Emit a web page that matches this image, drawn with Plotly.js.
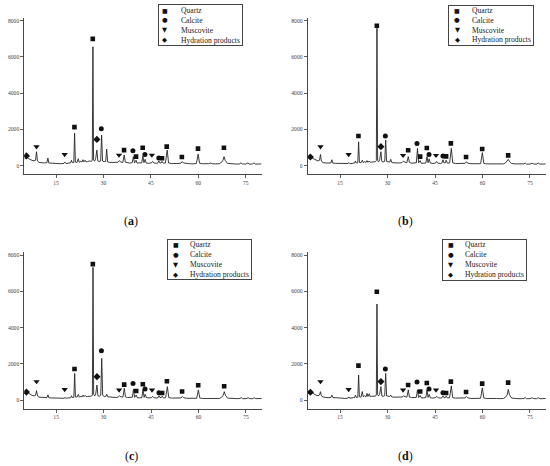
<!DOCTYPE html>
<html><head><meta charset="utf-8">
<script src="https://cdn.plot.ly/plotly-3.0.1.min.js"></script>
<style>html,body{margin:0;padding:0;background:#fff}#wrap{position:relative;width:550px;height:466px}#chart{width:550px;height:466px}
.lgframe{position:absolute;border:1px solid #444;box-sizing:border-box;pointer-events:none;z-index:10}</style>
</head><body><div id="wrap"><div id="chart"></div></div><script>
// ---- data (2θ in degrees, intensity in counts) ----
const twoTheta = [5.0,5.4,5.8,6.2,6.8,7.4,8.0,8.5,8.8,9.1,9.6,10.4,11.2,12.1,12.4,12.7,13.5,14.5,15.5,16.5,
 17.5,17.8,18.1,19.0,19.6,19.85,20.1,20.6,20.85,21.1,21.6,22.0,22.3,22.8,23.2,23.5,23.8,24.2,24.5,25.0,
 25.6,26.2,26.45,26.65,26.85,27.2,27.5,27.9,28.2,28.6,29.1,29.4,29.7,30.2,30.7,31.0,31.3,32.0,33.0,34.0,
 34.6,35.0,35.5,36.1,36.55,36.9,37.6,38.3,39.1,39.45,39.8,40.3,40.6,41.2,42.1,42.45,42.8,43.15,43.5,44.3,
 45.2,45.5,45.9,46.8,47.2,47.5,47.8,48.2,48.5,48.9,49.6,50.15,50.6,51.5,52.5,53.5,54.5,54.9,55.3,56.3,
 57.3,58.3,59.4,59.95,60.4,61.3,62.3,63.2,64.0,64.4,65.5,66.6,67.3,67.8,68.15,68.5,69.2,70.2,71.2,72.2,
 73.1,73.5,73.9,75.0,75.7,76.2,77.1,77.6,78.1,79.0,80.0];
const intensityA = [380,420,470,400,330,290,270,300,770,260,180,160,150,170,420,150,140,110,120,110,
 130,200,120,140,160,300,170,180,1790,200,180,380,190,250,200,330,210,300,210,230,
 260,240,300,6560,320,250,380,860,260,230,260,1690,260,220,240,920,210,180,170,160,
 190,280,200,180,590,200,150,140,170,500,160,300,150,140,160,530,170,350,150,130,
 160,240,150,130,150,260,160,150,240,140,150,860,150,120,110,120,140,230,150,110,
 110,100,120,640,140,110,100,110,150,110,100,110,180,300,500,300,130,100,100,90,
 100,160,100,90,150,90,90,150,90,90,100];
const intensityB = [420,440,450,420,360,320,260,300,620,250,170,150,140,150,330,140,130,120,110,100,
 120,170,110,130,150,260,150,160,1320,180,160,300,180,220,180,280,190,260,190,200,
 230,220,280,7580,300,220,320,770,230,210,240,1420,230,200,200,350,180,160,150,150,
 180,250,190,170,500,180,140,130,160,950,160,280,140,130,150,500,160,380,150,120,
 150,230,140,120,150,330,160,150,300,140,150,960,150,120,110,110,130,220,140,110,
 100,100,110,720,130,100,100,100,140,100,100,100,160,260,350,240,120,100,90,90,
 100,150,90,90,140,90,90,150,90,90,100];
const intensityC = [380,430,470,400,310,270,240,280,530,240,170,160,140,150,300,140,130,120,110,100,
 110,160,110,130,140,250,150,160,1480,190,170,320,180,210,190,290,200,270,200,210,
 220,230,290,7320,320,240,350,840,250,220,280,2310,270,210,210,330,190,170,160,150,
 180,240,190,170,660,190,150,140,170,620,160,290,150,130,150,600,160,330,150,130,
 150,220,140,120,140,250,150,140,230,130,140,750,150,120,110,110,130,210,140,110,
 100,100,110,570,130,100,100,100,140,100,100,100,170,280,475,270,120,100,90,90,
 100,150,90,90,140,90,90,140,90,90,100];
const intensityD = [400,440,460,410,320,280,250,290,475,250,180,150,140,160,280,150,130,110,120,100,
 120,180,110,140,150,280,160,170,1390,190,170,480,200,250,190,380,210,360,200,220,
 240,230,300,5300,310,240,330,750,240,220,250,1480,240,210,210,290,190,170,160,150,
 180,240,190,170,570,180,150,140,160,570,150,270,140,130,150,570,160,320,140,120,
 150,220,140,120,140,240,150,140,230,130,140,790,140,120,110,110,130,210,140,100,
 100,100,110,680,130,100,100,100,140,100,90,100,170,300,600,300,120,90,90,90,
 100,150,90,90,140,90,90,140,90,90,100];

// phase markers: 2θ positions and marker heights per panel
const quartzX = [20.8,26.6,36.5,40.3,42.4,48.5,50.0,54.8,59.9,68.1];
const quartzA = [2130,7000,860,500,990,410,1050,480,940,990];
const quartzB = [1640,7720,850,500,975,515,1230,480,920,570];
const quartzC = [1720,7500,860,510,880,400,1050,480,830,770];
const quartzD = [1910,5980,840,480,950,400,1030,460,920,970];
const calciteX = [29.3,39.3,43.1,47.5];
const calciteA = [2040,830,620,420];
const calciteB = [1640,1230,620,530];
const calciteC = [2730,930,620,420];
const calciteD = [1720,1010,620,420];
const muscoviteX = [8.8,17.7,34.9,45.3];
const muscoviteA = [1050,620,590,590];
const muscoviteB = [1050,620,570,570];
const muscoviteC = [1030,600,570,570];
const muscoviteD = [1030,600,570,570];
const hydrationX = [5.6,27.9];
const hydrationA = [540,1450];
const hydrationB = [480,1050];
const hydrationC = [450,1300];
const hydrationD = [440,1030];

const xTickVals = [15,30,45,60,75];
const yTickVals = [0,2000,4000,6000,8000];
const phaseNames = ['Quartz','Calcite','Muscovite','Hydration products'];
const phaseGlyphs = ['■','●','▼','◆'];
const panelLetters = ['a','b','c','d'];

// ---- layout geometry (pixels) ----
const W = 550, H = 466;
const panels = [
  {xd:[24.2,261.5], yd:[18,174],  xr:[4.9,80], I:intensityA, q:quartzA, c:calciteA, m:muscoviteA, h:hydrationA,
   box:[158,4,243,46], sym:164.5, txt:178.5, row0:10.5, cap:[131,221]},
  {xd:[307.5,545.8], yd:[18,174], xr:[4.7,80], I:intensityB, q:quartzB, c:calciteB, m:muscoviteB, h:hydrationB,
   box:[447.7,5,534,46], sym:457, txt:469.5, row0:10.3, cap:[405,221]},
  {xd:[24.2,261.8], yd:[252.3,408.6], xr:[4.9,80], I:intensityC, q:quartzC, c:calciteC, m:muscoviteC, h:hydrationC,
   box:[166.7,239,251.7,280], sym:175.5, txt:187.5, row0:245, cap:[131,455.6]},
  {xd:[307.5,545.8], yd:[252.3,408.6], xr:[4.7,80], I:intensityD, q:quartzD, c:calciteD, m:muscoviteD, h:hydrationD,
   box:[441.7,239.3,527,281], sym:450.7, txt:463, row0:245, cap:[405,455.6]}
];
const yRange = [-458, 8149];

const traces = [], layout = {
  width: W, height: H, margin:{l:0,r:0,t:0,b:0}, showlegend:false,
  paper_bgcolor:'#fff', plot_bgcolor:'rgba(0,0,0,0)',
  font:{family:'"Liberation Serif", "Times New Roman", serif', color:'#333'},
  annotations:[]
};
const px = v => v / W, py = v => 1 - v / H;
const wrap = document.getElementById('wrap');

panels.forEach((p, i) => {
  const sfx = i === 0 ? '' : String(i + 1);
  const xa = 'x' + sfx, ya = 'y' + sfx;
  traces.push({x: twoTheta, y: p.I, xaxis: xa, yaxis: ya, mode:'lines',
    line:{color:'#262626', width:0.9}, hoverinfo:'skip'});
  const mk = (xs, ys, sym, size) => traces.push({x: xs, y: ys, xaxis: xa, yaxis: ya, mode:'markers',
    marker:{symbol: sym, size: size, color:'#111'}, hoverinfo:'skip'});
  mk(quartzX, p.q, 'square', 4.6);
  mk(calciteX, p.c, 'circle', 5);
  mk(muscoviteX, p.m, 'triangle-down', 5.5);
  mk(hydrationX, p.h, 'diamond', 5.5);

  const axCommon = {showgrid:false, zeroline:false, showline:true, linecolor:'#333', linewidth:0.9,
    ticks:'outside', ticklen:3, tickwidth:0.8, tickcolor:'#333',
    tickfont:{size:5.6, color:'#444', family:'"Liberation Serif", serif'}};
  layout['xaxis' + sfx] = Object.assign({}, axCommon, {
    domain:[px(p.xd[0]), px(p.xd[1])], range:p.xr, anchor: ya,
    tickvals: xTickVals, ticktext: xTickVals.map(String)});
  layout['yaxis' + sfx] = Object.assign({}, axCommon, {
    domain:[py(p.yd[1]), py(p.yd[0])], range:yRange, anchor: xa,
    tickvals: yTickVals, ticktext: yTickVals.map(String)});

  // legend frame (thin bordered box overlaid on the chart)
  const f = document.createElement('div');
  f.className = 'lgframe';
  f.style.left = p.box[0] + 'px'; f.style.top = p.box[1] + 'px';
  f.style.width = (p.box[2] - p.box[0]) + 'px'; f.style.height = (p.box[3] - p.box[1]) + 'px';
  wrap.appendChild(f);

  phaseNames.forEach((name, k) => {
    const ry = p.row0 + k * 9.9;
    layout.annotations.push({xref:'paper', yref:'paper', x:px(p.sym), y:py(ry), xanchor:'center', yanchor:'middle',
      text: phaseGlyphs[k], showarrow:false, font:{family:'"DejaVu Sans", sans-serif', size: k === 0 ? 6 : 6.5, color:'#111'}});
    layout.annotations.push({xref:'paper', yref:'paper', x:px(p.txt), y:py(ry), xanchor:'left', yanchor:'middle',
      text: name, showarrow:false, font:{size:7.6, color:'#222'}});
  });
  // panel caption
  layout.annotations.push({xref:'paper', yref:'paper', x:px(p.cap[0]), y:py(p.cap[1]), xanchor:'center', yanchor:'middle',
    text:'(<b>' + panelLetters[i] + '</b>)', showarrow:false, font:{size:12, color:'#111'}});
});

Plotly.newPlot('chart', traces, layout, {staticPlot:true, displayModeBar:false});
</script></body></html>
